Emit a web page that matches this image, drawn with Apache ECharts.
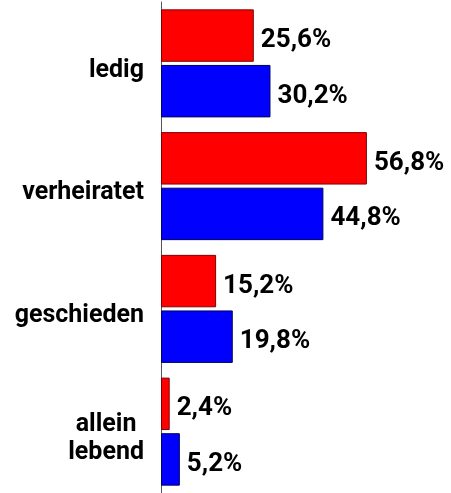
<!DOCTYPE html>
<html>
<head>
<meta charset="utf-8">
<script src="https://cdn.jsdelivr.net/npm/echarts@6/dist/echarts.min.js"></script>
<style>
  html, body { margin: 0; padding: 0; background: #fff; }
  #chart { width: 451px; height: 493px; }
</style>
</head>
<body>
<div id="chart"></div>
<script>
// categories top to bottom
var categories = ['ledig', 'verheiratet', 'geschieden', 'allein lebend'];
var redValues = [25.6, 56.8, 15.2, 2.4];
var blueValues = [30.2, 44.8, 19.8, 5.2];

var labelFont = 'Roboto, DejaVu Sans, sans-serif';

function valueLabel(p) {
  return p.value.toFixed(1).replace('.', ',') + '%';
}

var valueLabelStyle = {
  show: true,
  position: 'right',
  distance: 7,
  offset: [0, 5],
  formatter: valueLabel,
  color: '#000',
  fontFamily: labelFont,
  fontWeight: 'bold',
  fontSize: 26
};

var chart = echarts.init(document.getElementById('chart'));
var option = {
  animation: false,
  grid: { left: 161, right: 0, top: 2, bottom: -5 },
  xAxis: {
    type: 'value',
    min: 0,
    max: 80,
    show: false
  },
  yAxis: {
    type: 'category',
    inverse: true,
    data: categories,
    axisLine: { show: true, lineStyle: { color: '#555', width: 1 } },
    axisTick: { show: false },
    axisLabel: {
      margin: 17,
      color: '#000',
      fontFamily: labelFont,
      fontWeight: 'bold',
      fontSize: 25,
      padding: [14, 0, 0, 0],
      formatter: function (v) {
        if (v === 'allein lebend') {
          return '{c|allein}\n{c|lebend}';
        }
        return v;
      },
      rich: {
        c: {
          align: 'center',
          fontFamily: labelFont,
          fontWeight: 'bold',
          fontSize: 25,
          color: '#000',
          lineHeight: 28
        }
      }
    }
  },
  series: [
    {
      type: 'bar',
      data: redValues,
      barCategoryGap: '12%',
      barGap: '6%',
      itemStyle: { color: '#ff0000', borderColor: '#800000', borderWidth: 1 },
      label: valueLabelStyle
    },
    {
      type: 'bar',
      data: blueValues,
      barCategoryGap: '12%',
      barGap: '6%',
      itemStyle: { color: '#0000ff', borderColor: '#000060', borderWidth: 1 },
      label: valueLabelStyle
    }
  ]
};
chart.setOption(option);
</script>
</body>
</html>
